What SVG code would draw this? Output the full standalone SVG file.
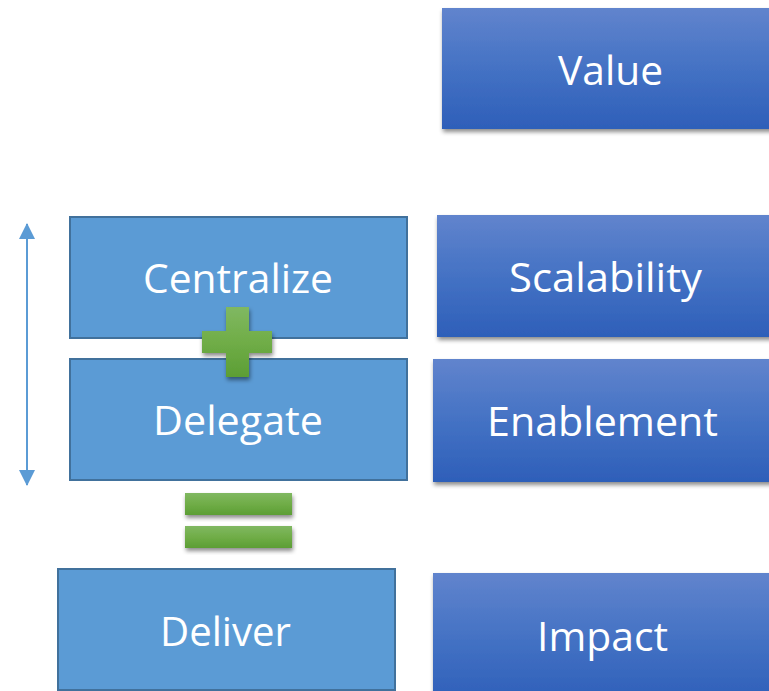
<svg xmlns="http://www.w3.org/2000/svg" width="769" height="691" viewBox="0 0 769 691">
  <defs>
    <linearGradient id="blueGrad" x1="0" y1="0" x2="0" y2="1">
      <stop offset="0" stop-color="#6184cd"/>
      <stop offset="0.5" stop-color="#4472c4"/>
      <stop offset="1" stop-color="#2e5fb9"/>
    </linearGradient>
    <linearGradient id="greenGrad" x1="0" y1="0" x2="0" y2="1">
      <stop offset="0" stop-color="#80b862"/>
      <stop offset="0.5" stop-color="#70ad47"/>
      <stop offset="1" stop-color="#5c9e35"/>
    </linearGradient>
    <filter id="shadow" x="-10%" y="-20%" width="125%" height="150%">
      <feDropShadow dx="1" dy="3" stdDeviation="2" flood-color="#000" flood-opacity="0.45"/>
    </filter>
    <marker id="arrowHead" viewBox="0 0 16 16" refX="15" refY="8" markerWidth="16" markerHeight="16" markerUnits="userSpaceOnUse" orient="auto-start-reverse">
      <path d="M0,0 L16,8 L0,16 Z" fill="#5b9bd5"/>
    </marker>
    <style>
      .lbl { font-family: "Open Sans", "Liberation Sans", sans-serif; font-size: 41px; fill: #ffffff; text-anchor: middle; }
      .lightBox { fill: #5b9bd5; stroke: #41719c; stroke-width: 2; }
      .darkBox { fill: url(#blueGrad); filter: url(#shadow); }
      .op { fill: url(#greenGrad); filter: url(#shadow); }
    </style>
  </defs>

  <rect width="769" height="691" fill="#ffffff"/>

  <!-- connectors: double-headed range arrow -->
  <g id="connectors">
    <line x1="27" y1="224" x2="27" y2="485" stroke="#5b9bd5" stroke-width="2" marker-start="url(#arrowHead)" marker-end="url(#arrowHead)"/>
  </g>

  <!-- value column -->
  <g id="value">
    <rect class="darkBox" x="442" y="8" width="340" height="121"/>
    <text class="lbl" x="610.5" y="85" textLength="105" lengthAdjust="spacingAndGlyphs">Value</text>
  </g>
  <g id="scalability">
    <rect class="darkBox" x="437" y="215" width="345" height="122"/>
    <text class="lbl" x="605.5" y="292" textLength="193" lengthAdjust="spacingAndGlyphs">Scalability</text>
  </g>
  <g id="enablement">
    <rect class="darkBox" x="433" y="359" width="349" height="123"/>
    <text class="lbl" x="602.5" y="436" textLength="231" lengthAdjust="spacingAndGlyphs">Enablement</text>
  </g>
  <g id="impact">
    <rect class="darkBox" x="433" y="573" width="349" height="130"/>
    <text class="lbl" x="602.5" y="651" textLength="131" lengthAdjust="spacingAndGlyphs">Impact</text>
  </g>

  <!-- action column -->
  <g id="centralize">
    <rect class="lightBox" x="70" y="217" width="337" height="121"/>
    <text class="lbl" x="238" y="293" textLength="190" lengthAdjust="spacingAndGlyphs">Centralize</text>
  </g>
  <g id="delegate">
    <rect class="lightBox" x="70" y="359" width="337" height="121"/>
    <text class="lbl" x="238" y="435" textLength="170" lengthAdjust="spacingAndGlyphs">Delegate</text>
  </g>
  <g id="deliver">
    <rect class="lightBox" x="58" y="569" width="337" height="121"/>
    <text class="lbl" x="225.5" y="646" textLength="131" lengthAdjust="spacingAndGlyphs">Deliver</text>
  </g>

  <!-- plus sign -->
  <g id="plus">
    <path class="op" d="M226,307 H249 V331 H272 V353 H249 V377 H226 V353 H202 V331 H226 Z"/>
  </g>

  <!-- equals sign -->
  <g id="equals">
    <rect class="op" x="185" y="493" width="107" height="22"/>
    <rect class="op" x="185" y="526" width="107" height="22"/>
  </g>
</svg>
